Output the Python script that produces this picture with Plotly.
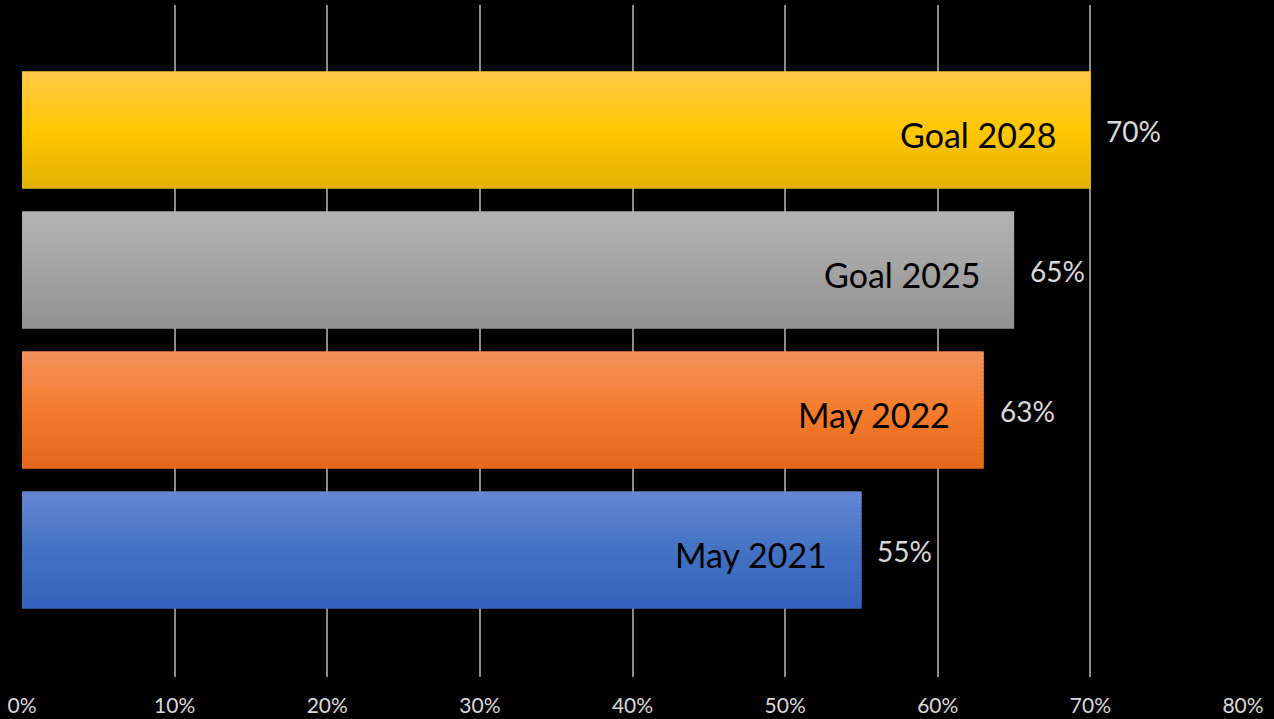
import plotly.graph_objects as go

categories = ["May 2021", "May 2022", "Goal 2025", "Goal 2028"]
values = [0.55, 0.63, 0.65, 0.70]
value_labels = ["55%", "63%", "65%", "70%"]
tick_vals = [0, 0.1, 0.2, 0.3, 0.4, 0.5, 0.6, 0.7, 0.8]
tick_text = ["0%", "10%", "20%", "30%", "40%", "50%", "60%", "70%", "80%"]

# gradient stops (top, middle, bottom) for each bar
grad_top = ["#6487D2", "#F2925E", "#B3B3B3", "#FFC84C"]
grad_mid = ["#4472C4", "#F47C2C", "#A3A3A3", "#FFC800"]
grad_bot = ["#2F62B9", "#E3681A", "#929292", "#E2B000"]

BAR_W = 0.836
N = 30


def hex2rgb(h):
    h = h.lstrip("#")
    return tuple(int(h[i:i + 2], 16) for i in (0, 2, 4))


def mix(a, b, t):
    ra, rb = hex2rgb(a), hex2rgb(b)
    return "rgb(%d,%d,%d)" % tuple(round(ra[i] + (rb[i] - ra[i]) * t) for i in range(3))


def grad_color(k, f):
    # f: 0 at bottom -> 1 at top
    if f < 0.5:
        return mix(grad_bot[k], grad_mid[k], f / 0.5)
    return mix(grad_mid[k], grad_top[k], (f - 0.5) / 0.5)


fig = go.Figure()

# base solid bar
fig.add_trace(go.Bar(
    y=categories, x=values, orientation="h", width=BAR_W,
    marker=dict(color=grad_mid, line=dict(width=0)),
    hoverinfo="skip", showlegend=False,
))

slice_w = BAR_W / N
for i in range(N):
    f = (i + 0.5) / N
    colors = [grad_color(k, f) for k in range(len(categories))]
    w = slice_w * (1.6 if i < N - 1 else 1.0)
    fig.add_trace(go.Bar(
        y=categories, x=values, orientation="h",
        width=w, offset=-BAR_W / 2 + i * slice_w,
        marker=dict(color=colors, line=dict(width=0)),
        hoverinfo="skip", showlegend=False,
    ))

font_family = "Lato, 'Open Sans', sans-serif"

for cat, v, lab in zip(categories, values, value_labels):
    fig.add_annotation(
        x=v, y=cat, text=lab, showarrow=False, xanchor="left",
        xshift=14, yshift=-1,
        font=dict(family=font_family, size=28, color="#D9D9D9"),
    )
    fig.add_annotation(
        x=v, y=cat, text=cat, showarrow=False, xanchor="right",
        xshift=-32, yshift=-4,
        font=dict(family=font_family, size=34, color="#000000"),
    )

fig.update_layout(
    width=1274, height=719,
    paper_bgcolor="#000000", plot_bgcolor="#000000",
    barmode="overlay", bargap=0.164,
    margin=dict(l=22, r=31, t=5, b=42, autoexpand=False),
    showlegend=False,
    font=dict(family=font_family, color="#D9D9D9"),
)
fig.update_xaxes(
    range=[0, 0.8], tickvals=tick_vals, ticktext=tick_text,
    showgrid=True, gridcolor="#8C8C8C", gridwidth=1.5,
    zeroline=False, showline=False, automargin=False,
    ticks="outside", ticklen=10, tickcolor="rgba(0,0,0,0)",
    tickfont=dict(family=font_family, size=21, color="#D9D9D9"),
)
fig.update_yaxes(
    type="category", categoryorder="array", categoryarray=categories,
    range=[-0.907, 3.893], showticklabels=False, showgrid=False,
    zeroline=False, showline=False, automargin=False,
)

fig.write_html("out.html")
